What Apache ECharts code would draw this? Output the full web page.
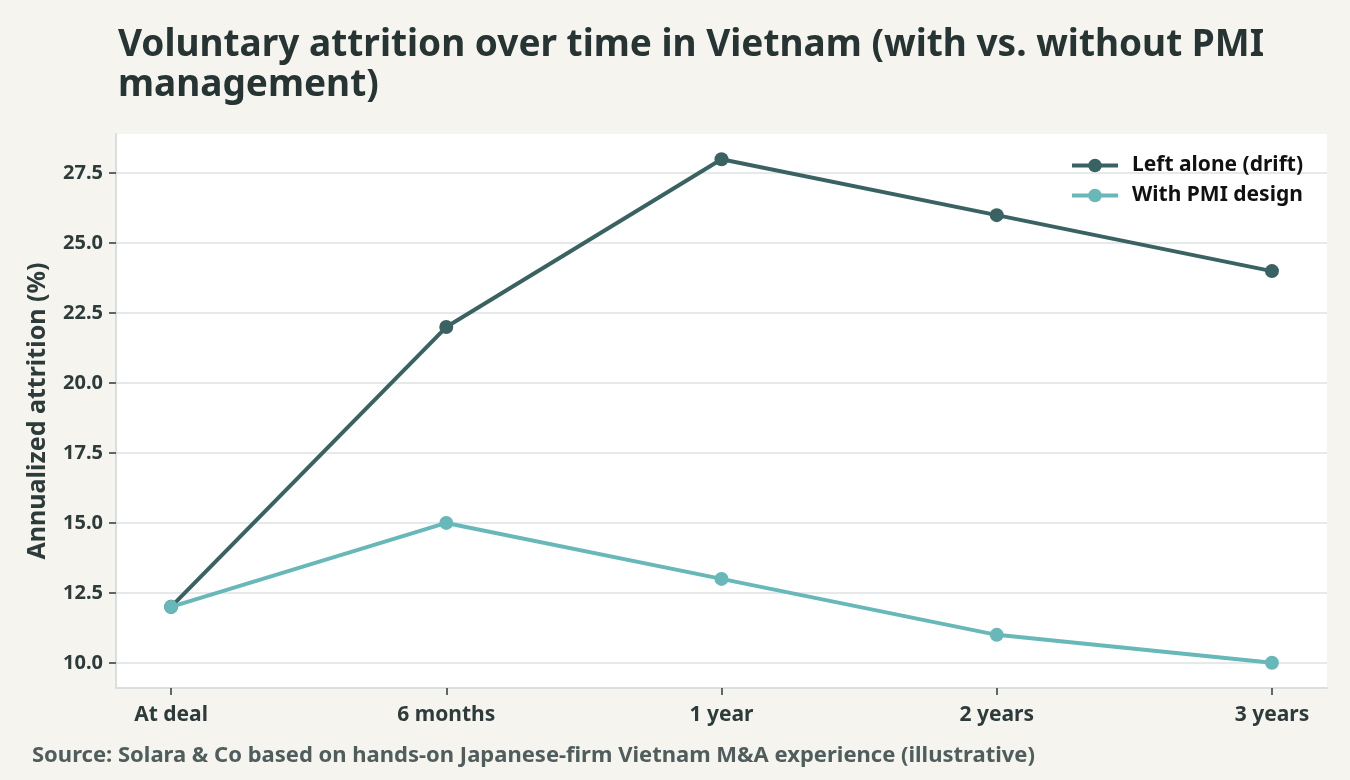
<!DOCTYPE html>
<html lang="en">
<head>
    <meta charset="UTF-8">
    <title>Voluntary attrition</title>
    <script type="text/javascript" src="https://cdn.jsdelivr.net/npm/echarts@6/dist/echarts.min.js"></script>
    <style>
        html, body { margin: 0; padding: 0; background: #f5f4ef; }
        #main { width: 1350px; height: 780px; }
    </style>
</head>
<body>
<div id="main"></div>
<script type="text/javascript">
    // data
    var categories = ['At deal', '6 months', '1 year', '2 years', '3 years'];
    var driftValues = [12, 22, 28, 26, 24];
    var pmiValues = [12, 15, 13, 11, 10];
    var yTicks = [10, 12.5, 15, 17.5, 20, 22.5, 25, 27.5];
    var xTicks = [0, 1, 2, 3, 4];

    var FONT = 'Noto Sans';
    var dark = '#3b6262';
    var light = '#68b7b9';

    function toPoints(vals) {
        var pts = [];
        for (var i = 0; i < vals.length; i++) {
            pts.push([i, vals[i]]);
        }
        return pts;
    }

    var myChart = echarts.init(document.getElementById('main'));
    myChart.setOption({
        backgroundColor: '#f5f4ef',
        textStyle: { fontFamily: FONT },
        title: [{
            text: 'Voluntary attrition over time in Vietnam (with vs. without PMI\nmanagement)',
            left: 113, top: 20,
            textStyle: { fontSize: 37, fontWeight: 'bold', color: '#263434', lineHeight: 40, fontFamily: FONT }
        }, {
            text: 'Source: Solara & Co based on hands-on Japanese-firm Vietnam M&A experience (illustrative)',
            left: 27, top: 740,
            textStyle: { fontSize: 22, fontWeight: 'bold', color: '#4f5d5d', fontFamily: FONT }
        }],
        legend: {
            right: 42, top: 150, orient: 'vertical',
            itemWidth: 46, itemHeight: 17, itemGap: 9,
            lineStyle: { width: 4 },
            textStyle: { fontSize: 21, fontWeight: 'bold', color: '#111', fontFamily: FONT, padding: [0, 0, 0, 9] },
            data: ['Left alone (drift)', 'With PMI design']
        },
        grid: { left: 116, right: 23, top: 134, bottom: 92, show: true, backgroundColor: '#ffffff', borderWidth: 0 },
        xAxis: {
            type: 'value', min: -0.2, max: 4.2,
            axisLine: { show: true, onZero: false, lineStyle: { color: '#d9dfdf', width: 2 } },
            axisTick: { show: true, customValues: xTicks, length: 7, lineStyle: { color: '#2d3b3b', width: 1.5 } },
            axisLabel: {
                customValues: xTicks, margin: 17,
                fontSize: 21, fontWeight: 'bold', color: '#2d3b3b', fontFamily: FONT,
                formatter: function (v) { return categories[Math.round(v)]; }
            },
            splitLine: { show: false }
        },
        yAxis: {
            type: 'value', min: 9.1, max: 28.9,
            name: 'Annualized attrition (%)', nameLocation: 'middle', nameGap: 66,
            nameTextStyle: { fontSize: 25, fontWeight: 'bold', color: '#2d3b3b', fontFamily: FONT },
            axisLine: { show: true, onZero: false, lineStyle: { color: '#d9dfdf', width: 2 } },
            axisTick: { show: true, customValues: yTicks, length: 7, lineStyle: { color: '#2d3b3b', width: 1.5 } },
            axisLabel: {
                customValues: yTicks, margin: 13,
                fontSize: 20, fontWeight: 'bold', color: '#2d3b3b', fontFamily: FONT,
                formatter: function (v) { return v.toFixed(1); }
            },
            splitLine: { show: true, lineStyle: { color: '#dce2e2', width: 1.5 } }
        },
        series: [{
            name: 'Left alone (drift)',
            type: 'line',
            data: toPoints(driftValues),
            symbol: 'circle', symbolSize: 14,
            lineStyle: { color: dark, width: 4 },
            itemStyle: { color: dark },
            z: 3
        }, {
            name: 'With PMI design',
            type: 'line',
            data: toPoints(pmiValues),
            symbol: 'circle', symbolSize: 14,
            lineStyle: { color: light, width: 4 },
            itemStyle: { color: light },
            z: 4
        }]
    });
</script>
</body>
</html>
